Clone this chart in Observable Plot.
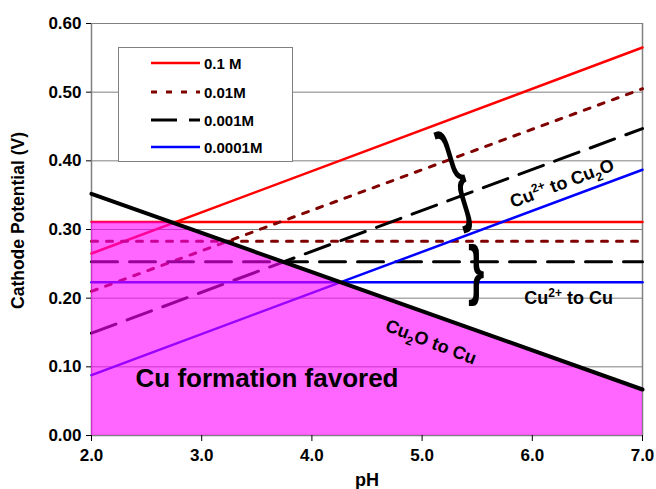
<!DOCTYPE html>
<html><head><meta charset="utf-8">
<script src="https://cdn.jsdelivr.net/npm/d3@7"></script>
<script src="https://cdn.jsdelivr.net/npm/@observablehq/plot@0.6"></script>
<style>
body{margin:0;background:#fff;font-family:"Liberation Sans",Arial,sans-serif;}
#wrap{position:relative;width:656px;height:489px;}
#legend{position:absolute;left:118px;top:47px;width:175px;height:115px;border:1px solid #808080;background:#fff;box-sizing:border-box;}
.row{position:absolute;left:0;height:20px;display:flex;align-items:center;}
.row span{font-weight:bold;font-size:15px;color:#000;margin-left:4px;}
</style></head><body><div id="wrap"></div>
<script>
// ---- data ----
const pHRange = [2.0, 7.0];
const concentrations = ["0.1 M", "0.01M", "0.001M", "0.0001M"];
const cu2oAtPH2 = [0.265, 0.210, 0.149, 0.088];   // Cu2+ -> Cu2O lines at pH 2
const cu2oAtPH7 = [0.565, 0.505, 0.447, 0.387];   // Cu2+ -> Cu2O lines at pH 7
const cuLevels = [0.311, 0.283, 0.253, 0.223];    // Cu2+ -> Cu (pH independent)
const cu2oToCuEnds = [0.352, 0.067];              // Cu2O -> Cu line at pH 2 and 7
const yTicks = [0, 0.1, 0.2, 0.3, 0.4, 0.5, 0.6];
const xTicks = [2, 3, 4, 5, 6, 7];

// ---- styles ----
const seriesStyle = [
  {stroke: "#ff0000", dash: null, width: 2.5},
  {stroke: "#800000", dash: "6,9", width: 3},
  {stroke: "#000000", dash: "26,12", width: 3},
  {stroke: "#0000ff", dash: null, width: 2.5}
];

const sloped = concentrations.map((c, i) => [
  {x: pHRange[0], y: cu2oAtPH2[i]}, {x: pHRange[1], y: cu2oAtPH7[i]}
]);
const flat = concentrations.map((c, i) => [
  {x: pHRange[0], y: cuLevels[i]}, {x: pHRange[1], y: cuLevels[i]}
]);
const blackLine = [{x: pHRange[0], y: cu2oToCuEnds[0]}, {x: pHRange[1], y: cu2oToCuEnds[1]}];
const xi = pHRange[0] + (cu2oToCuEnds[0] - cuLevels[0]) / (cu2oToCuEnds[0] - cu2oToCuEnds[1]) * (pHRange[1] - pHRange[0]);
const shade = [
  {x: pHRange[0], y: cuLevels[0]},
  {x: xi, y: cuLevels[0]},
  {x: pHRange[1], y: cu2oToCuEnds[1]}
];

const marks = [
  Plot.gridY(yTicks, {stroke: "#808080", strokeOpacity: 1, strokeWidth: 1}),
  Plot.ruleX([pHRange[0], pHRange[1]], {stroke: "#808080", strokeWidth: 1.5}),
  Plot.ruleY([0], {stroke: "#808080", strokeWidth: 1.5})
];
concentrations.forEach((c, i) => {
  const s = seriesStyle[i];
  marks.push(Plot.line(flat[i], {x: "x", y: "y", stroke: s.stroke, strokeWidth: s.width, strokeDasharray: s.dash}));
  marks.push(Plot.line(sloped[i], {x: "x", y: "y", stroke: s.stroke, strokeWidth: s.width, strokeDasharray: s.dash}));
});
marks.push(
  Plot.areaY(shade, {x: "x", y1: 0, y2: "y", fill: "#ff00ff", fillOpacity: 0.6}),
  Plot.line(blackLine, {x: "x", y: "y", stroke: "#000", strokeWidth: 4}),
  Plot.text(["@A"], {x: 6.27, y: 0.367, rotate: -20.5, fontSize: 18}),
  Plot.text(["@B"], {x: 6.33, y: 0.200, fontSize: 18}),
  Plot.text(["@C"], {x: 5.08, y: 0.136, rotate: 21, fontSize: 18}),
  Plot.text(["Cu formation favored"], {x: 2.40, y: 0.083, textAnchor: "start", fontSize: 26}),
  Plot.text(["}"], {x: 5.30, y: 0.381, rotate: -17, fontSize: 58, fontWeight: "normal"}),
  Plot.text(["}"], {x: 5.49, y: 0.240, fontSize: 42, fontWeight: "bold"}),
  Plot.axisY({ticks: yTicks, tickFormat: d3.format(".2f"), tickSize: 5, tickPadding: 5, label: null, fontSize: 17}),
  Plot.axisX({ticks: xTicks, tickFormat: d3.format(".1f"), tickSize: 6, tickPadding: 7, label: null, fontSize: 17}),
  Plot.text(["Cathode Potential (V)"], {frameAnchor: "left", textAnchor: "middle", lineAnchor: "middle", dx: -73, dy: -9, rotate: -90, fontSize: 17.5}),
  Plot.text(["pH"], {frameAnchor: "bottom", textAnchor: "middle", lineAnchor: "middle", dy: 45, fontSize: 18})
);

const chart = Plot.plot({
  width: 656, height: 489,
  marginLeft: 91, marginRight: 14, marginTop: 23, marginBottom: 54,
  x: {domain: pHRange},
  y: {domain: [0, 0.6]},
  style: {fontFamily: "'Liberation Sans', Arial, sans-serif", fontSize: "17px", fontWeight: "bold", background: "white", color: "black"},
  marks
});

// make sure tick labels use the large bold font
d3.select(chart).selectAll('g[aria-label$="tick label"]').attr("font-size", 17).attr("font-weight", "bold");

// braces: stretch the glyphs vertically
d3.select(chart).selectAll("text").filter(function(){ return this.textContent === "}"; })
  .each(function(){
    const fs = this.getAttribute("font-size") || this.parentNode.getAttribute("font-size") || "";
    const big = parseFloat(fs) > 50;
    const t = this.getAttribute("transform") || "";
    this.setAttribute("transform", t + (big ? " scale(1,1.95)" : " scale(1,1.6)"));
  });

// labels with super/subscripts
const richLabels = {
  "@A": [["Cu"], ["2+", "sup"], [" to Cu"], ["2", "sub"], ["O"]],
  "@B": [["Cu"], ["2+", "sup"], [" to Cu"]],
  "@C": [["Cu"], ["2", "sub"], ["O to Cu"]]
};
d3.select(chart).selectAll("text").each(function(){
  const parts = richLabels[this.textContent];
  if (!parts) return;
  const el = d3.select(this);
  const tdy = el.attr("dy");
  el.text(null);
  let shift = 0;
  parts.forEach(([s, kind], k) => {
    const target = kind === "sup" ? -7 : kind === "sub" ? 5 : 0;
    const ts = el.append("tspan").text(s);
    if (k === 0 && tdy) ts.attr("dy", tdy);
    else ts.attr("dy", (target - shift) + "px");
    if (kind) ts.attr("font-size", 12);
    shift = target;
  });
});

const wrap = document.getElementById("wrap");
wrap.appendChild(chart);

const legend = document.createElement("div");
legend.id = "legend";
const rowTops = [5, 34, 62, 89];
concentrations.forEach((c, i) => {
  const s = seriesStyle[i];
  const row = document.createElement("div");
  row.className = "row";
  row.style.top = rowTops[i] + "px";
  row.style.left = "32px";
  row.innerHTML = `<svg width="49" height="20"><line x1="0" x2="49" y1="10" y2="10" stroke="${s.stroke}" stroke-width="${s.width}" ${s.dash ? `stroke-dasharray="${s.dash}"` : ""}/></svg><span>${c}</span>`;
  legend.appendChild(row);
});
wrap.appendChild(legend);
</script>
</body></html>
